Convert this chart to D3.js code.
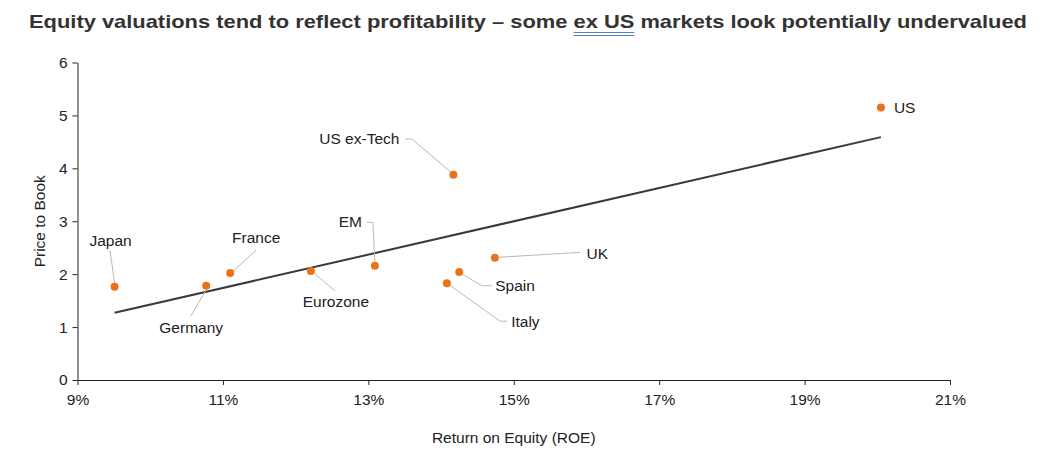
<!DOCTYPE html>
<html>
<head>
<meta charset="utf-8">
<script src="https://cdn.jsdelivr.net/npm/d3@7"></script>
<style>
  body { margin: 0; background: #fff; }
  svg { display: block; font-family: Arial, "Liberation Sans", sans-serif; }
</style>
</head>
<body>
<svg id="chart"></svg>
<script>
// data
const markets = ['Japan', 'Germany', 'France', 'Eurozone', 'EM', 'US ex-Tech', 'UK', 'Spain', 'Italy', 'US'];
const roe = [9.51, 10.77, 11.1, 12.21, 13.09, 14.17, 14.74, 14.25, 14.08, 20.05];
const priceToBook = [1.76, 1.78, 2.02, 2.06, 2.16, 3.88, 2.31, 2.04, 1.83, 5.15];
const trendRoe = [9.51, 20.05];
const trendPb = [1.27, 4.59];
const xTicks = [9, 11, 13, 15, 17, 19, 21];
const yTicks = [0, 1, 2, 3, 4, 5, 6];

// label placement (pixel offsets from the point)
const labelLayout = {
  'Japan':      { dx: -4,   dy: -41,  anchor: 'middle', leader: [[-4.5, -36], [0, -4]] },
  'Germany':    { dx: -15,  dy: 47.5, anchor: 'middle', leader: [[-15.3, 30], [0, 4]] },
  'France':     { dx: 26,   dy: -30,  anchor: 'middle', leader: [[26, -23], [3, -2]] },
  'Eurozone':   { dx: 25,   dy: 36.5, anchor: 'middle', leader: [[24, 19.7], [3, 2]] },
  'EM':         { dx: -13,  dy: -38.5, anchor: 'end',   leader: [[-8, -43.3], [-2, -43.3], [0, -4]] },
  'US ex-Tech': { dx: -54,  dy: -31,  anchor: 'end',    leader: [[-48, -35.7], [-41.6, -35.7], [-3, -3]] },
  'UK':         { dx: 91.7, dy: 0.8,  anchor: 'start',  leader: [[85, -5.4], [4, -0.5]] },
  'Spain':      { dx: 36,   dy: 19,   anchor: 'start',  leader: [[3, 2], [22.7, 13.7], [32.7, 13.7]] },
  'Italy':      { dx: 64.3, dy: 44,   anchor: 'start',  leader: [[3, 2], [53.3, 38], [60.3, 38]] },
  'US':         { dx: 13,   dy: 5.6,  anchor: 'start',  leader: null }
};

const width = 1045, height = 457;
const margin = { left: 77.5, right: 95, top: 62.5, bottom: 77 };
const fontSize = 15.5;

const svg = d3.select('#chart').attr('width', width).attr('height', height);

const x = d3.scaleLinear().domain([9, 21]).range([margin.left, width - margin.right]);
const y = d3.scaleLinear().domain([0, 6]).range([height - margin.bottom, margin.top]);

// title
const title = svg.append('text')
  .attr('x', 29)
  .attr('y', 28)
  .attr('font-size', 18.5)
  .attr('font-weight', 'bold')
  .attr('fill', '#333333');
title.append('tspan').text('Equity valuations tend to reflect profitability \u2013 some ');
title.append('tspan').text('ex US');
title.append('tspan').text(' markets look potentially undervalued');

const tNode = title.node();
const full = tNode.getComputedTextLength();
const target = 998;
if (Math.abs(full - target) > 2) {
  title.attr('textLength', target).attr('lengthAdjust', 'spacingAndGlyphs');
}
const preLen = 'Equity valuations tend to reflect profitability \u2013 some '.length;
const ux0 = tNode.getStartPositionOfChar(preLen).x;
const ux1 = tNode.getEndPositionOfChar(preLen + 4).x;
[32.5, 35.5].forEach(yy => {
  svg.append('line')
    .attr('x1', ux0).attr('x2', ux1)
    .attr('y1', yy).attr('y2', yy)
    .attr('stroke', '#5b7fc7').attr('stroke-width', 1.2);
});

// axes
const xAxis = svg.append('g')
  .attr('transform', `translate(0,${height - margin.bottom})`)
  .call(d3.axisBottom(x).tickValues(xTicks).tickSize(5).tickSizeOuter(0).tickFormat(d => d + '%'));
const yAxis = svg.append('g')
  .attr('transform', `translate(${margin.left},0)`)
  .call(d3.axisLeft(y).tickValues(yTicks).tickSize(5).tickSizeOuter(0).tickFormat(d3.format('d')));

[xAxis, yAxis].forEach(g => {
  g.attr('font-size', null).attr('font-family', null);
  g.select('.domain').attr('stroke', '#222');
  g.selectAll('.tick line').attr('stroke', '#222');
  g.selectAll('.tick text')
    .attr('font-size', fontSize)
    .attr('fill', '#222');
});
xAxis.selectAll('.tick text').attr('dy', '1.1em').attr('y', 8);
yAxis.selectAll('.tick text').attr('x', -10);

// axis titles
svg.append('text')
  .attr('x', x(15))
  .attr('y', 443)
  .attr('text-anchor', 'middle')
  .attr('font-size', fontSize)
  .attr('fill', '#222')
  .text('Return on Equity (ROE)');

svg.append('text')
  .attr('transform', `translate(45,${y(3)}) rotate(-90)`)
  .attr('text-anchor', 'middle')
  .attr('font-size', fontSize)
  .attr('fill', '#222')
  .text('Price to Book');

// trend line
svg.append('path')
  .datum(d3.zip(trendRoe, trendPb))
  .attr('fill', 'none')
  .attr('stroke', '#373a42')
  .attr('stroke-width', 2)
  .attr('d', d3.line().x(d => x(d[0])).y(d => y(d[1])));

const points = markets.map((m, i) => ({ name: m, roe: roe[i], pb: priceToBook[i] }));

// leader lines
svg.append('g')
  .selectAll('path')
  .data(points.filter(d => labelLayout[d.name].leader))
  .join('path')
  .attr('fill', 'none')
  .attr('stroke', '#b8b8b8')
  .attr('stroke-width', 1)
  .attr('d', d => {
    const px = x(d.roe), py = y(d.pb);
    return d3.line()(labelLayout[d.name].leader.map(o => [px + o[0], py + o[1]]));
  });

// points
svg.append('g')
  .selectAll('circle')
  .data(points)
  .join('circle')
  .attr('cx', d => x(d.roe))
  .attr('cy', d => y(d.pb))
  .attr('r', 4)
  .attr('fill', '#e8731a');

// labels
svg.append('g')
  .selectAll('text')
  .data(points)
  .join('text')
  .attr('x', d => x(d.roe) + labelLayout[d.name].dx)
  .attr('y', d => y(d.pb) + labelLayout[d.name].dy)
  .attr('text-anchor', d => labelLayout[d.name].anchor)
  .attr('font-size', fontSize)
  .attr('fill', '#222')
  .text(d => d.name);
</script>
</body>
</html>
